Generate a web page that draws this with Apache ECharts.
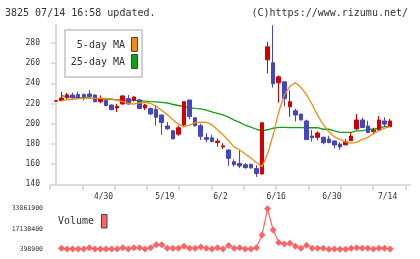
<!DOCTYPE html>
<html>
<head>
<meta charset="utf-8">
<script src="https://cdn.jsdelivr.net/npm/echarts@6/dist/echarts.min.js"></script>
<style>
  html, body { margin: 0; padding: 0; background: #fff; }
  #chart { width: 420px; height: 259px; }
</style>
</head>
<body>
<div id="chart"></div>
<script>
// 日付 (2025)
const dates = ['4/16','4/17','4/18','4/21','4/22','4/23','4/24','4/25','4/28','4/30',
  '5/1','5/2','5/7','5/8','5/9','5/12','5/13','5/14','5/15','5/16',
  '5/19','5/20','5/21','5/22','5/23','5/26','5/27','5/28','5/29','5/30',
  '6/2','6/3','6/4','6/5','6/6','6/9','6/10','6/11','6/12','6/13',
  '6/16','6/17','6/18','6/19','6/20','6/23','6/24','6/25','6/26','6/27',
  '6/30','7/1','7/2','7/3','7/4','7/7','7/8','7/9','7/10','7/11','7/14'];
const labelDays = ['4/30','5/19','6/2','6/16','6/30','7/14'];

const opens  = [222.3,222.8,225.7,228.4,229.0,228.8,229.4,228.4,221.8,223.0,
  218.5,215.5,219.5,225.0,223.2,223.5,215.5,215.0,214.3,208.6,
  197.7,193.0,189.6,198.7,223.5,205.8,198.0,186.3,186.0,181.3,
  177.0,174.0,162.4,160.6,159.4,159.6,155.6,150.2,263.2,260.3,
  240.5,241.5,216.7,212.8,209.5,202.7,187.8,186.5,186.6,184.8,
  182.9,179.9,179.0,183.2,194.8,203.7,197.7,192.2,193.8,202.7,197.0];
const closes = [222.7,225.4,228.6,225.7,225.7,226.3,226.7,221.8,224.5,218.0,
  213.8,217.3,227.5,219.5,226.5,215.0,218.5,209.6,206.3,201.2,
  195.0,185.0,196.0,221.8,207.0,198.0,187.5,184.5,182.3,182.8,
  178.0,165.7,159.6,158.2,156.5,156.3,150.7,201.0,276.1,239.5,
  246.4,225.0,221.7,208.5,203.8,184.2,186.0,190.8,181.2,181.3,
  178.9,177.0,182.2,187.8,203.7,196.2,191.2,193.6,203.7,199.6,202.7];
const lows   = [222.2,222.5,224.5,225.0,225.0,223.0,225.0,221.0,220.2,217.0,
  213.5,211.5,219.0,219.0,221.8,214.5,213.5,208.5,198.0,189.0,
  193.8,184.5,188.0,196.4,204.4,197.0,184.0,181.6,181.5,177.2,
  175.0,158.3,157.4,156.0,155.5,155.5,147.3,150.0,249.7,235.8,
  220.8,217.0,206.8,202.2,203.0,184.0,182.2,183.5,179.6,180.5,
  175.6,174.2,178.8,183.0,193.8,196.0,191.0,189.5,192.8,197.0,197.0];
const highs  = [222.8,231.7,230.5,230.7,231.7,230.0,233.4,229.0,228.0,224.0,
  219.0,219.5,228.0,228.4,227.0,224.5,219.5,216.0,218.5,209.0,
  201.7,193.5,198.0,222.0,223.5,206.5,200.0,190.5,189.0,185.5,
  180.6,174.5,164.8,174.0,161.0,160.5,159.0,201.0,281.0,297.5,
  247.7,241.5,233.2,214.8,210.0,204.0,193.8,192.5,187.0,188.0,
  183.5,181.5,184.8,191.5,209.6,206.0,203.0,196.0,207.6,206.3,204.7];

// 5日移動平均 / 25日移動平均
const ma5 = [null,222.8,223.5,224.2,224.8,225.1,225.1,225.1,225.1,225.1,
  224.5,223.0,221.8,220.0,219.5,220.5,221.0,220.0,217.5,213.0,
  209.0,204.0,199.5,197.0,198.5,201.0,201.5,201.3,199.0,194.0,
  189.0,183.0,177.0,174.0,170.0,166.0,161.5,157.5,170.0,189.0,
  211.5,228.4,237.0,240.6,236.0,228.5,219.0,208.0,199.0,192.0,
  187.0,184.5,182.0,180.8,181.5,184.5,186.5,190.0,193.0,195.5,197.0];
const ma25 = [null,227.7,226.8,226.2,225.8,225.5,225.2,225.0,224.7,224.3,
  224.0,223.6,223.5,223.3,223.1,222.8,222.3,221.9,221.6,221.2,
  220.5,219.0,218.0,217.0,216.0,215.2,214.6,213.5,211.8,210.2,
  208.8,206.5,203.5,201.3,198.5,196.5,194.5,193.0,194.0,195.5,
  196.3,196.3,196.2,196.2,196.1,196.0,196.0,196.0,194.5,194.5,
  193.0,191.5,191.5,191.5,192.8,192.8,194.5,194.5,195.5,197.0,197.5];

// 出来高
const volumes = [null,1210000,650000,650000,650000,650000,1700000,650000,650000,650000,
  650000,650000,1700000,650000,1700000,1700000,650000,1700000,4000000,4000000,
  1210000,1210000,1210000,2900000,1210000,1210000,2300000,1210000,650000,1700000,
  650000,3400000,1210000,1700000,650000,650000,1700000,12100000,33861900,16300000,
  5900000,4800000,5400000,2900000,1210000,3700000,1210000,1210000,1210000,420000,
  500000,398900,450000,1210000,1700000,1210000,1210000,500000,1210000,1210000,500000];
const volTicks = [398900, 17130400, 33861900];

const RED = '#d40000', BLUE = '#4646c0', ORANGE = '#f08c14', GREEN = '#14a014', PINK = '#ff6464';
const AXIS = '#dcdcdc';
const FONT = 'DejaVu Sans Mono';

// layout of the day axis (pixels)
const X0 = 55.9, DX = 5.57, GL = 50, GR = 410;
const xMin = (GL - X0) / DX, xMax = (GR - X0) / DX;
const tickPos = [];
for (let k = 0; k <= 11; k++) tickPos.push((GL + 32.3 * k - X0) / DX);
const labelPos = labelDays.map(d => dates.indexOf(d));

const idx = (arr) => arr.map((v, i) => [i, v]);
const candles = dates.map((d, i) => [i, opens[i], closes[i], lows[i], highs[i]]);

const chart = echarts.init(document.getElementById('chart'), null, { renderer: 'canvas' });

chart.setOption({
  animation: false,
  grid: [
    { left: GL, width: GR - GL, top: 24.7, height: 159.6 },
    { left: GL, width: GR - GL, top: 208.8, height: 40.4 }
  ],
  xAxis: [
    {
      type: 'value', gridIndex: 0, min: xMin, max: xMax,
      splitLine: { show: false },
      axisLine: { lineStyle: { color: AXIS, width: 2 } },
      axisTick: { customValues: tickPos, length: 6, lineStyle: { color: AXIS, width: 2 } },
      axisLabel: {
        customValues: labelPos,
        formatter: v => dates[Math.round(v)],
        margin: 9, fontFamily: FONT, fontSize: 8, color: '#333',
        padding: [0, 5, 0, 0]
      }
    },
    {
      type: 'value', gridIndex: 1, min: xMin, max: xMax,
      show: false
    }
  ],
  yAxis: [
    {
      type: 'value', gridIndex: 0, min: 140, max: 298,
      splitLine: { show: false },
      axisLine: { show: true, lineStyle: { color: AXIS, width: 2 } },
      axisTick: { show: true, customValues: [140,160,180,200,220,240,260,280], length: 5, lineStyle: { color: AXIS, width: 2 } },
      axisLabel: {
        customValues: [140,160,180,200,220,240,260,280],
        margin: 10, fontFamily: FONT, fontSize: 8, color: '#333'
      }
    },
    {
      type: 'value', gridIndex: 1, min: volTicks[0], max: volTicks[2],
      splitLine: { show: false },
      axisLine: { show: false },
      axisTick: { show: false },
      axisLabel: {
        customValues: volTicks,
        formatter: v => String(Math.round(v)),
        margin: 7, fontFamily: FONT, fontSize: 6.5, color: '#333'
      }
    }
  ],
  graphic: [
    { type: 'text', left: 5, top: 8, style: { text: '3825 07/14 16:58 updated.', font: '10px "DejaVu Sans Mono"', fill: '#333' } },
    { type: 'text', right: 12, top: 8, style: { text: '(C)https://www.rizumu.net/', font: '10px "DejaVu Sans Mono"', fill: '#333' } },
    { type: 'rect', shape: { x: 65, y: 30, width: 77, height: 47 }, style: { fill: '#fff', stroke: '#d0d0d0', lineWidth: 2 }, z: 10 },
    { type: 'text', x: 125, y: 45.7, style: { text: '5-day MA', font: '10px "DejaVu Sans Mono"', fill: '#333', align: 'right', verticalAlign: 'middle' }, z: 11 },
    { type: 'text', x: 125, y: 62.3, style: { text: '25-day MA', font: '10px "DejaVu Sans Mono"', fill: '#333', align: 'right', verticalAlign: 'middle' }, z: 11 },
    { type: 'rect', shape: { x: 131.5, y: 37.5, width: 6, height: 14 }, style: { fill: ORANGE, stroke: '#444', lineWidth: 1 }, z: 11 },
    { type: 'rect', shape: { x: 131.5, y: 54.5, width: 6, height: 14 }, style: { fill: GREEN, stroke: '#444', lineWidth: 1 }, z: 11 },
    { type: 'text', x: 58, y: 221.7, style: { text: 'Volume', font: '10px "DejaVu Sans Mono"', fill: '#333', verticalAlign: 'middle' }, z: 11 },
    { type: 'rect', shape: { x: 101.5, y: 214.5, width: 5.5, height: 13.5 }, style: { fill: PINK, stroke: '#444', lineWidth: 1 }, z: 11 }
  ],
  series: [
    {
      name: '25-day MA', type: 'line', xAxisIndex: 0, yAxisIndex: 0,
      data: idx(ma25), showSymbol: false, lineStyle: { color: GREEN, width: 1.3 }, z: 2
    },
    {
      name: 'candle', type: 'candlestick', xAxisIndex: 0, yAxisIndex: 0,
      data: candles, encode: { x: 0, y: [1, 2, 3, 4] },
      barWidth: 4,
      itemStyle: { color: RED, color0: BLUE, borderColor: RED, borderColor0: BLUE, borderWidth: 1 },
      z: 3
    },
    {
      name: '5-day MA', type: 'line', xAxisIndex: 0, yAxisIndex: 0,
      data: idx(ma5), showSymbol: false, lineStyle: { color: ORANGE, width: 1.3 }, z: 4
    },
    {
      name: 'Volume', type: 'line', xAxisIndex: 1, yAxisIndex: 1,
      data: idx(volumes), symbol: 'diamond', symbolSize: 7, showSymbol: true,
      itemStyle: { color: PINK }, lineStyle: { color: PINK, width: 1.2 }
    }
  ]
});
</script>
</body>
</html>
